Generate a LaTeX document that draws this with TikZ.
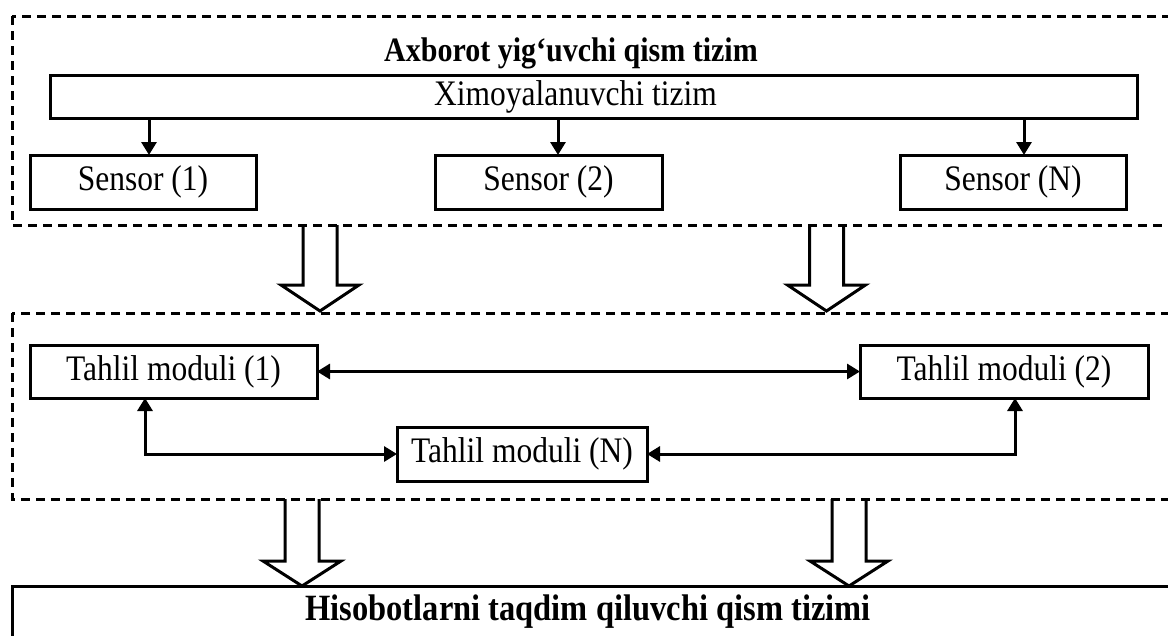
\documentclass[tikz,border=0pt]{standalone}
\usepackage{fontspec}
\usepackage{graphicx}
\setmainfont{Liberation Serif}
\usetikzlibrary{arrows.meta,calc}

% glyphs are set a little taller than wide
\newcommand\tallt[1]{\scalebox{1}[1.14]{#1}}

\tikzset{
  box/.style={draw, line width=3pt, inner sep=0pt, outer sep=0pt, fill=white,
              font=\fontsize{31.5}{36}\selectfont},
  frame/.style={draw, line width=3pt, dash pattern=on 9pt off 6pt},
  conn/.style={line width=3pt, -{Triangle[length=13pt,width=15pt]}},
  biconn/.style={line width=3pt, {Triangle[length=13pt,width=15pt]}-{Triangle[length=13pt,width=15pt]}},
  hollow/.style={draw, line width=3pt, fill=white, line join=miter},
  title/.style={font=\fontsize{30}{36}\selectfont\bfseries, inner sep=0pt}
}

\begin{document}
\begin{tikzpicture}[x=1pt, y=-1pt]
\useasboundingbox (0,0) rectangle (1168,635);
\clip (0,0) rectangle (1168,635);

% --- wide arrows between the blocks (drawn first, frames go over them) ---
\coordinate (h1) at (320,225);
\coordinate (h2) at (826.5,225);
\foreach \c in {h1,h2}{
  \draw[hollow] ($(\c)+(-17,0)$) -- ($(\c)+(-17,60)$) -- ($(\c)+(-39,60)$)
      -- ($(\c)+(0,86)$) -- ($(\c)+(39,60)$) -- ($(\c)+(17,60)$) -- ($(\c)+(17,0)$);
}
\coordinate (h3) at (302,499);
\coordinate (h4) at (849,499);
\foreach \c in {h3,h4}{
  \draw[hollow] ($(\c)+(-17,0)$) -- ($(\c)+(-17,62)$) -- ($(\c)+(-39,62)$)
      -- ($(\c)+(0,87)$) -- ($(\c)+(39,62)$) -- ($(\c)+(17,62)$) -- ($(\c)+(17,0)$);
}

% --- data acquisition subsystem ---
\draw[frame] (12,16) rectangle (1200,225);
\node[title] (ttl) at (571,53) {\tallt{Axborot yig‘uvchi qism tizim}};
\node[box, minimum width=1087pt, minimum height=43pt,
      label={[font=\fontsize{31.5}{36}\selectfont, xshift=-18pt]center:\tallt{Ximoyalanuvchi tizim}}]
      (xim) at (593.5,96.5) {};
\node[box, minimum width=226pt, minimum height=54pt] (s1) at (143,182) {\tallt{Sensor (1)}};
\node[box, minimum width=227pt, minimum height=54pt] (s2) at (548.5,182) {\tallt{Sensor (2)}};
\node[box, minimum width=226pt, minimum height=54pt] (sN) at (1013,182) {\tallt{Sensor (N)}};
\draw[conn] ([xshift=6pt]s1.north |- xim.south) -- ([xshift=6pt]s1.north);
\draw[conn] ([xshift=9.5pt]s2.north |- xim.south) -- ([xshift=9.5pt]s2.north);
\draw[conn] ([xshift=11pt]sN.north |- xim.south) -- ([xshift=11pt]sN.north);

% --- analysis block ---
\draw[frame] (12,313) rectangle (1200,499);
\node[box, minimum width=287pt, minimum height=53pt] (t1) at (173.5,371.5) {\tallt{Tahlil moduli (1)}};
\node[box, minimum width=288pt, minimum height=53pt] (t2) at (1004,371.5) {\tallt{Tahlil moduli (2)}};
\node[box, minimum width=250pt, minimum height=54pt] (tN) at (522,454) {\tallt{Tahlil moduli (N)}};
\draw[biconn] (t1.east) -- (t2.west);
\draw[biconn] ([xshift=-28.5pt]t1.south) |- (tN.west);
\draw[biconn] ([xshift=11pt]t2.south) |- (tN.east);

% --- reporting subsystem ---
\draw[line width=3pt] (12,700) -- (12,586) -- (1200,586);
\node[title, font=\fontsize{32.5}{38}\selectfont\bfseries] (rep) at (588,612)
  {\tallt{Hisobotlarni taqdim qiluvchi qism tizimi}};
\end{tikzpicture}
\end{document}
